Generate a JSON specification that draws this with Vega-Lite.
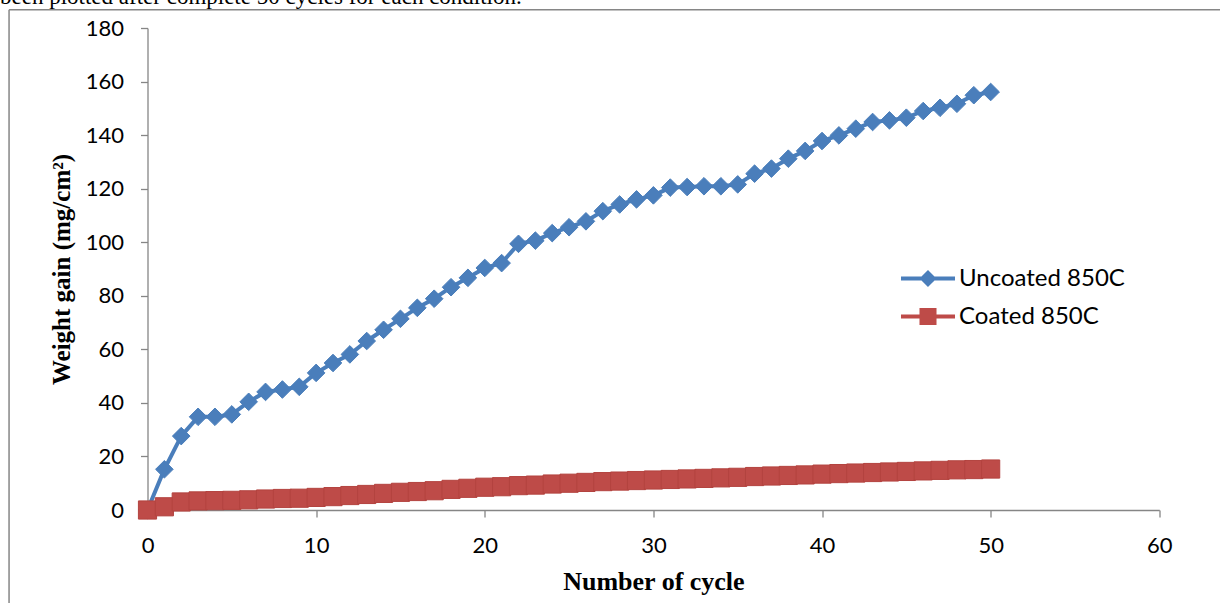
{
  "$schema": "https://vega.github.io/schema/vega-lite/v6.json",
  "width": 1011.8,
  "height": 482,
  "autosize": {"type": "none"},
  "padding": {"left": 147.5, "top": 28, "right": 60.7, "bottom": 93},
  "background": "white",
  "config": {"view": {"stroke": null}, "font": "Lato"},
  "title": {
    "text": "been plotted after complete 50 cycles for each condition.",
    "anchor": "start",
    "frame": "group",
    "dx": -147.5,
    "dy": 21,
    "offset": 3,
    "baseline": "alphabetic",
    "font": "Liberation Serif",
    "fontSize": 23,
    "fontWeight": "normal",
    "color": "black"
  },
  "data": {
    "values": [
      {"cycle": 0, "series": "Uncoated 850C", "gain": 0},
      {"cycle": 1, "series": "Uncoated 850C", "gain": 15.2},
      {"cycle": 2, "series": "Uncoated 850C", "gain": 27.6},
      {"cycle": 3, "series": "Uncoated 850C", "gain": 34.8},
      {"cycle": 4, "series": "Uncoated 850C", "gain": 34.8},
      {"cycle": 5, "series": "Uncoated 850C", "gain": 35.7},
      {"cycle": 6, "series": "Uncoated 850C", "gain": 40.4},
      {"cycle": 7, "series": "Uncoated 850C", "gain": 44.1},
      {"cycle": 8, "series": "Uncoated 850C", "gain": 45},
      {"cycle": 9, "series": "Uncoated 850C", "gain": 46},
      {"cycle": 10, "series": "Uncoated 850C", "gain": 51.2},
      {"cycle": 11, "series": "Uncoated 850C", "gain": 54.9},
      {"cycle": 12, "series": "Uncoated 850C", "gain": 58.1},
      {"cycle": 13, "series": "Uncoated 850C", "gain": 63.1},
      {"cycle": 14, "series": "Uncoated 850C", "gain": 67.3},
      {"cycle": 15, "series": "Uncoated 850C", "gain": 71.4},
      {"cycle": 16, "series": "Uncoated 850C", "gain": 75.5},
      {"cycle": 17, "series": "Uncoated 850C", "gain": 78.9},
      {"cycle": 18, "series": "Uncoated 850C", "gain": 83.2},
      {"cycle": 19, "series": "Uncoated 850C", "gain": 86.7},
      {"cycle": 20, "series": "Uncoated 850C", "gain": 90.4},
      {"cycle": 21, "series": "Uncoated 850C", "gain": 92.2},
      {"cycle": 22, "series": "Uncoated 850C", "gain": 99.4},
      {"cycle": 23, "series": "Uncoated 850C", "gain": 100.6},
      {"cycle": 24, "series": "Uncoated 850C", "gain": 103.4},
      {"cycle": 25, "series": "Uncoated 850C", "gain": 105.6},
      {"cycle": 26, "series": "Uncoated 850C", "gain": 107.8},
      {"cycle": 27, "series": "Uncoated 850C", "gain": 111.6},
      {"cycle": 28, "series": "Uncoated 850C", "gain": 114.1},
      {"cycle": 29, "series": "Uncoated 850C", "gain": 116},
      {"cycle": 30, "series": "Uncoated 850C", "gain": 117.5},
      {"cycle": 31, "series": "Uncoated 850C", "gain": 120.4},
      {"cycle": 32, "series": "Uncoated 850C", "gain": 120.6},
      {"cycle": 33, "series": "Uncoated 850C", "gain": 120.9},
      {"cycle": 34, "series": "Uncoated 850C", "gain": 120.9},
      {"cycle": 35, "series": "Uncoated 850C", "gain": 121.6},
      {"cycle": 36, "series": "Uncoated 850C", "gain": 125.6},
      {"cycle": 37, "series": "Uncoated 850C", "gain": 127.5},
      {"cycle": 38, "series": "Uncoated 850C", "gain": 131.2},
      {"cycle": 39, "series": "Uncoated 850C", "gain": 134.1},
      {"cycle": 40, "series": "Uncoated 850C", "gain": 137.8},
      {"cycle": 41, "series": "Uncoated 850C", "gain": 139.9},
      {"cycle": 42, "series": "Uncoated 850C", "gain": 142.4},
      {"cycle": 43, "series": "Uncoated 850C", "gain": 144.9},
      {"cycle": 44, "series": "Uncoated 850C", "gain": 145.5},
      {"cycle": 45, "series": "Uncoated 850C", "gain": 146.5},
      {"cycle": 46, "series": "Uncoated 850C", "gain": 149},
      {"cycle": 47, "series": "Uncoated 850C", "gain": 150.2},
      {"cycle": 48, "series": "Uncoated 850C", "gain": 151.7},
      {"cycle": 49, "series": "Uncoated 850C", "gain": 154.9},
      {"cycle": 50, "series": "Uncoated 850C", "gain": 156.1},
      {"cycle": 0, "series": "Coated 850C", "gain": 0},
      {"cycle": 1, "series": "Coated 850C", "gain": 1.2},
      {"cycle": 2, "series": "Coated 850C", "gain": 3.0},
      {"cycle": 3, "series": "Coated 850C", "gain": 3.4},
      {"cycle": 4, "series": "Coated 850C", "gain": 3.5},
      {"cycle": 5, "series": "Coated 850C", "gain": 3.6},
      {"cycle": 6, "series": "Coated 850C", "gain": 3.8},
      {"cycle": 7, "series": "Coated 850C", "gain": 4.1},
      {"cycle": 8, "series": "Coated 850C", "gain": 4.3},
      {"cycle": 9, "series": "Coated 850C", "gain": 4.4},
      {"cycle": 10, "series": "Coated 850C", "gain": 4.7},
      {"cycle": 11, "series": "Coated 850C", "gain": 5.0},
      {"cycle": 12, "series": "Coated 850C", "gain": 5.4},
      {"cycle": 13, "series": "Coated 850C", "gain": 5.8},
      {"cycle": 14, "series": "Coated 850C", "gain": 6.2},
      {"cycle": 15, "series": "Coated 850C", "gain": 6.6},
      {"cycle": 16, "series": "Coated 850C", "gain": 6.9},
      {"cycle": 17, "series": "Coated 850C", "gain": 7.2},
      {"cycle": 18, "series": "Coated 850C", "gain": 7.7},
      {"cycle": 19, "series": "Coated 850C", "gain": 8.1},
      {"cycle": 20, "series": "Coated 850C", "gain": 8.5},
      {"cycle": 21, "series": "Coated 850C", "gain": 8.7},
      {"cycle": 22, "series": "Coated 850C", "gain": 9.1},
      {"cycle": 23, "series": "Coated 850C", "gain": 9.3},
      {"cycle": 24, "series": "Coated 850C", "gain": 9.7},
      {"cycle": 25, "series": "Coated 850C", "gain": 10.0},
      {"cycle": 26, "series": "Coated 850C", "gain": 10.3},
      {"cycle": 27, "series": "Coated 850C", "gain": 10.6},
      {"cycle": 28, "series": "Coated 850C", "gain": 10.8},
      {"cycle": 29, "series": "Coated 850C", "gain": 11.0},
      {"cycle": 30, "series": "Coated 850C", "gain": 11.2},
      {"cycle": 31, "series": "Coated 850C", "gain": 11.4},
      {"cycle": 32, "series": "Coated 850C", "gain": 11.6},
      {"cycle": 33, "series": "Coated 850C", "gain": 11.8},
      {"cycle": 34, "series": "Coated 850C", "gain": 12.0},
      {"cycle": 35, "series": "Coated 850C", "gain": 12.2},
      {"cycle": 36, "series": "Coated 850C", "gain": 12.5},
      {"cycle": 37, "series": "Coated 850C", "gain": 12.7},
      {"cycle": 38, "series": "Coated 850C", "gain": 12.9},
      {"cycle": 39, "series": "Coated 850C", "gain": 13.1},
      {"cycle": 40, "series": "Coated 850C", "gain": 13.4},
      {"cycle": 41, "series": "Coated 850C", "gain": 13.6},
      {"cycle": 42, "series": "Coated 850C", "gain": 13.8},
      {"cycle": 43, "series": "Coated 850C", "gain": 14.0},
      {"cycle": 44, "series": "Coated 850C", "gain": 14.2},
      {"cycle": 45, "series": "Coated 850C", "gain": 14.4},
      {"cycle": 46, "series": "Coated 850C", "gain": 14.6},
      {"cycle": 47, "series": "Coated 850C", "gain": 14.8},
      {"cycle": 48, "series": "Coated 850C", "gain": 15.0},
      {"cycle": 49, "series": "Coated 850C", "gain": 15.1},
      {"cycle": 50, "series": "Coated 850C", "gain": 15.3}
    ]
  },
  "layer": [
    {
      "data": {"values": [{}]},
      "mark": {"type": "rule", "color": "#868686", "strokeWidth": 1.5},
      "encoding": {
        "x": {"datum": -8.21, "type": "quantitative", "scale": {"domain": [0, 60], "nice": false}},
        "x2": {"datum": 64},
        "y": {"datum": 186.8, "type": "quantitative", "scale": {"domain": [0, 180], "nice": false}}
      }
    },
    {
      "data": {"values": [{}]},
      "mark": {"type": "rule", "color": "#868686", "strokeWidth": 1.5},
      "encoding": {
        "x": {"datum": -8.21, "type": "quantitative", "scale": {"domain": [0, 60], "nice": false}},
        "y": {"datum": 186.8, "type": "quantitative", "scale": {"domain": [0, 180], "nice": false}},
        "y2": {"datum": -36}
      }
    },
    {
      "mark": {"type": "line", "strokeWidth": 4, "strokeJoin": "round"},
      "encoding": {
        "x": {
          "field": "cycle",
          "type": "quantitative",
          "scale": {"domain": [0, 60], "nice": false},
          "axis": {
            "values": [0, 10, 20, 30, 40, 50, 60],
            "grid": false,
            "labelFlush": false,
            "title": "Number of cycle",
            "titleFont": "Liberation Serif",
            "titleFontSize": 26,
            "titleFontWeight": "bold",
            "titleColor": "black",
            "titlePadding": 12,
            "labelFont": "Lato",
            "labelFontSize": 22,
            "labelColor": "black",
            "labelPadding": 18,
            "tickSize": 7,
            "tickColor": "#868686",
            "tickWidth": 1.3,
            "domainColor": "#868686",
            "domainWidth": 1.3
          }
        },
        "y": {
          "field": "gain",
          "type": "quantitative",
          "scale": {"domain": [0, 180], "nice": false},
          "axis": {
            "values": [0, 20, 40, 60, 80, 100, 120, 140, 160, 180],
            "grid": false,
            "labelFlush": false,
            "title": "Weight gain (mg/cm²)",
            "titleFont": "Liberation Serif",
            "titleFontSize": 25,
            "titleFontWeight": "bold",
            "titleColor": "black",
            "titlePadding": 11,
            "labelFont": "Lato",
            "labelFontSize": 22,
            "labelColor": "black",
            "labelPadding": 17,
            "tickSize": 7,
            "tickColor": "#868686",
            "tickWidth": 1.3,
            "domainColor": "#868686",
            "domainWidth": 1.3
          }
        },
        "color": {
          "field": "series",
          "type": "nominal",
          "scale": {
            "domain": ["Uncoated 850C", "Coated 850C"],
            "range": ["#4a7ebb", "#be4b48"]
          },
          "legend": {
            "orient": "none",
            "legendX": 762,
            "legendY": 232,
            "title": null,
            "padding": 0,
            "symbolSize": 1369,
            "symbolType": "M-1.46,-0.11H1.46V0.11H-1.46Z",
            "labelFont": "Lato",
            "labelFontSize": 24,
            "labelColor": "black",
            "labelOffset": 12.5,
            "labelLimit": 400,
            "rowPadding": 7,
            "encode": {
              "symbols": {
                "update": {
                  "shape": {"signal": "datum.value === 'Uncoated 850C' ? 'M-1.46,-0.11H1.46V0.11H-1.46Z M0,-0.46L0.46,0L0,0.46L-0.46,0Z' : 'M-1.46,-0.11H1.46V0.11H-1.46Z M-0.46,-0.46H0.46V0.46H-0.46Z'"},
                  "fill": {"signal": "datum.value === 'Uncoated 850C' ? '#4a7ebb' : '#be4b48'"},
                  "stroke": {"value": "transparent"},
                  "strokeWidth": {"value": 0},
                  "opacity": {"value": 1}
                }
              }
            }
          }
        }
      }
    },
    {
      "transform": [{"filter": "datum.series === 'Uncoated 850C'"}],
      "mark": {"type": "point", "shape": "diamond", "filled": true, "opacity": 1, "size": 310, "strokeWidth": 1, "stroke": "#4a7ebb"},
      "encoding": {
        "x": {"field": "cycle", "type": "quantitative"},
        "y": {"field": "gain", "type": "quantitative"},
        "color": {"field": "series", "type": "nominal", "legend": null}
      }
    },
    {
      "transform": [{"filter": "datum.series === 'Coated 850C'"}],
      "mark": {"type": "point", "shape": "square", "filled": true, "opacity": 1, "size": 330, "strokeWidth": 1, "stroke": "#b3433f"},
      "encoding": {
        "x": {"field": "cycle", "type": "quantitative"},
        "y": {"field": "gain", "type": "quantitative"},
        "color": {"field": "series", "type": "nominal", "legend": null}
      }
    }
  ]
}
